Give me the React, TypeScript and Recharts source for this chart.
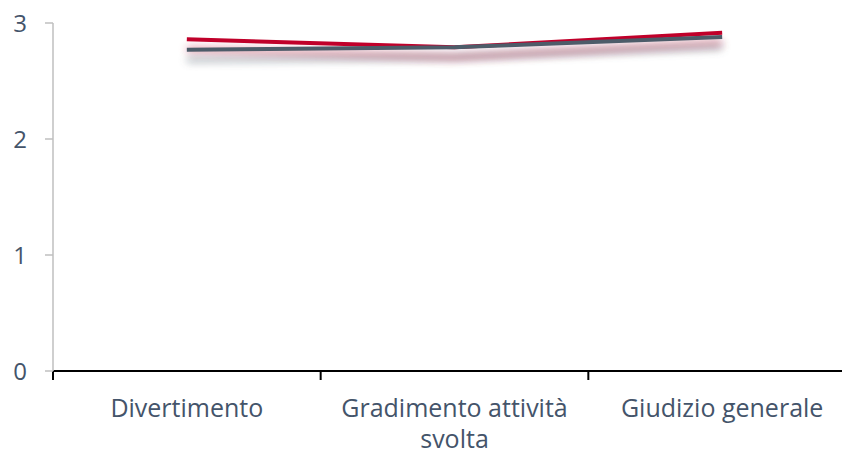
import { LineChart, Line, XAxis, YAxis } from "recharts";

const categories = ["Divertimento", "Gradimento attività svolta", "Giudizio generale"];
const redSeries = [2.86, 2.79, 2.915];
const graySeries = [2.77, 2.79, 2.88];
const yTicks = [0, 1, 2, 3];
const boundaryTicks = [0, 1, 2, 3];
const labelTicks = [0.5, 1.5, 2.5];

const data = categories.map((name, i) => ({
  name,
  x: i + 0.5,
  red: redSeries[i],
  gray: graySeries[i],
}));

const TEXT = "#44546A";
const FONT = "'Open Sans', sans-serif";
const LABEL_SIZE = 25;

let ctx: CanvasRenderingContext2D | null = null;
function wrapLabel(label: string, maxWidth: number): string[] {
  if (!ctx) ctx = document.createElement("canvas").getContext("2d");
  if (!ctx) return [label];
  ctx.font = `${LABEL_SIZE}px ${FONT}`;
  const words = label.split(" ");
  const lines: string[] = [];
  let cur = "";
  for (const w of words) {
    const test = cur ? cur + " " + w : w;
    if (cur && ctx.measureText(test).width > maxWidth) {
      lines.push(cur);
      cur = w;
    } else {
      cur = test;
    }
  }
  if (cur) lines.push(cur);
  return lines;
}

function CategoryTick(props: any) {
  const { x, y, payload } = props;
  const idx = labelTicks.indexOf(payload.value);
  const lines = wrapLabel(categories[idx] ?? "", 258);
  return (
    <text x={x} y={y + 36} textAnchor="middle" fill={TEXT} fontSize={LABEL_SIZE} fontFamily={FONT}>
      {lines.map((ln, i) => (
        <tspan key={i} x={x} dy={i === 0 ? 0 : 31}>
          {ln}
        </tspan>
      ))}
    </text>
  );
}

export default function App() {
  return (
    <div style={{ position: "absolute", left: 0, top: 0, width: 842, height: 455, overflow: "hidden", background: "#fff" }}>
      <LineChart width={856} height={455} data={data} margin={{ top: 23, right: 0, bottom: 0, left: 0 }}>
        <defs>
          <filter id="lineShadow" x="-10%" y="-100%" width="120%" height="400%">
            <feOffset in="SourceGraphic" dx="0" dy="10" result="off" />
            <feGaussianBlur in="off" stdDeviation="4" result="blur" />
            <feComponentTransfer in="blur" result="faded">
              <feFuncA type="linear" slope="0.6" />
            </feComponentTransfer>
            <feMerge>
              <feMergeNode in="faded" />
              <feMergeNode in="SourceGraphic" />
            </feMerge>
          </filter>
        </defs>
        <XAxis
          xAxisId={0}
          dataKey="x"
          type="number"
          domain={[0, 3]}
          ticks={boundaryTicks}
          height={10}
          axisLine={{ stroke: "#000", strokeWidth: 2 }}
          tickLine={{ stroke: "#000", strokeWidth: 2 }}
          tickSize={9}
          tick={() => <g />}
        />
        <XAxis
          xAxisId={1}
          dataKey="x"
          type="number"
          domain={[0, 3]}
          ticks={labelTicks}
          height={74}
          axisLine={false}
          tickLine={false}
          tickSize={0}
          tickMargin={0}
          tick={<CategoryTick />}
          interval={0}
        />
        <YAxis
          type="number"
          domain={[0, 3]}
          ticks={yTicks}
          width={53}
          axisLine={{ stroke: "#BFBFBF", strokeWidth: 1.5 }}
          tickLine={{ stroke: "#BFBFBF", strokeWidth: 1.5 }}
          tickSize={8}
          tickMargin={18}
          tick={{ fill: TEXT, fontSize: 24, fontFamily: FONT }}
        />
        <Line
          xAxisId={0}
          dataKey="red"
          stroke="#C0002B"
          strokeWidth={4}
          dot={false}
          activeDot={false}
          isAnimationActive={false}
          filter="url(#lineShadow)"
        />
        <Line
          xAxisId={0}
          dataKey="gray"
          stroke="#4D5B69"
          strokeWidth={4}
          dot={false}
          activeDot={false}
          isAnimationActive={false}
          filter="url(#lineShadow)"
        />
      </LineChart>
    </div>
  );
}
